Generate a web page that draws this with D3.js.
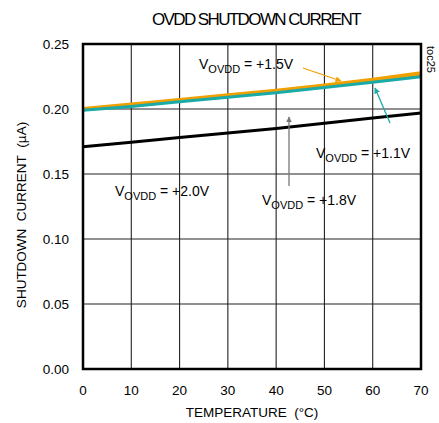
<!DOCTYPE html>
<html><head><meta charset="utf-8">
<script src="https://cdn.jsdelivr.net/npm/d3@7"></script>
<style>body{margin:0;background:#fff}svg{display:block}text{font-family:"Liberation Sans",Arial,sans-serif}</style>
</head><body><svg id="c" width="439" height="423"></svg>
<script>
const temps = [0,10,20,30,40,50,60,70];
const v15 = [0.200,0.2035,0.207,0.2105,0.214,0.218,0.2225,0.2275];
const v11 = [0.199,0.202,0.2055,0.209,0.2125,0.2165,0.2205,0.2248];
const v18 = [0.1995,0.2027,0.2062,0.2097,0.2132,0.2172,0.2213,0.2258];
const v20 = [0.171,0.1745,0.178,0.1815,0.185,0.189,0.193,0.197];
const xTicks = [0,10,20,30,40,50,60,70];
const yTicks = [0,0.05,0.10,0.15,0.20,0.25];

const svg = d3.select("#c");
const L=83,R=421,T=44,B=369;
const x = d3.scaleLinear().domain([0,70]).range([L,R]);
const y = d3.scaleLinear().domain([0,0.25]).range([B,T]);

// grid
svg.append("g").selectAll("line").data(xTicks).join("line")
  .attr("x1",d=>x(d)).attr("x2",d=>x(d)).attr("y1",T).attr("y2",B)
  .attr("stroke","#222").attr("stroke-width",1.1);
svg.append("g").selectAll("line").data(yTicks).join("line")
  .attr("y1",d=>y(d)).attr("y2",d=>y(d)).attr("x1",L).attr("x2",R)
  .attr("stroke","#222").attr("stroke-width",1.1);

// tick labels
svg.append("g").selectAll("text").data(xTicks).join("text")
  .attr("x",d=>x(d)).attr("y",395).attr("text-anchor","middle")
  .attr("font-size",13.5).text(d=>d);
svg.append("g").selectAll("text").data(yTicks).join("text")
  .attr("x",69).attr("y",d=>y(d)+5).attr("text-anchor","end")
  .attr("font-size",13.5).text(d=>d.toFixed(2));

// axis titles
svg.append("text").attr("x",252).attr("y",417).attr("text-anchor","middle")
  .attr("font-size",13.5).text("TEMPERATURE\u00a0\u00a0(°C)");
svg.append("text").attr("transform","translate(26,215) rotate(-90)")
  .attr("text-anchor","middle").attr("font-size",13.5).text("SHUTDOWN\u00a0\u00a0CURRENT\u00a0\u00a0(µA)");
svg.append("text").attr("x",256).attr("y",25).attr("text-anchor","middle")
  .attr("font-size",17).attr("letter-spacing",-1.6).text("OVDD SHUTDOWN CURRENT");
svg.append("text").attr("transform","translate(427,46) rotate(90)")
  .attr("font-size",11).text("toc25");

// lines
const line = d3.line().x((d,i)=>x(temps[i])).y(d=>y(d));
[[v20,"#000",3],[v18,"#777",3],[v15,"#f0a000",4],[v11,"#1aaaa8",3]].forEach(([s,c,w])=>{
  svg.append("path").attr("d",line(s)).attr("fill","none").attr("stroke",c).attr("stroke-width",w);
});

// frame
svg.append("rect").attr("x",L).attr("y",T).attr("width",R-L).attr("height",B-T)
  .attr("fill","none").attr("stroke","#000").attr("stroke-width",2.5);

// arrows
const defs = svg.append("defs");
function marker(id,color){
  defs.append("marker").attr("id",id).attr("viewBox","0 0 10 10").attr("refX",9).attr("refY",5)
    .attr("markerWidth",6).attr("markerHeight",6).attr("markerUnits","userSpaceOnUse").attr("orient","auto")
    .append("path").attr("d","M0,0L10,5L0,10z").attr("fill",color);
}
marker("mo","#f0a000");marker("mt","#1aaaa8");marker("mg","#777");
function arrow(x1,y1,x2,y2,c,m){
  svg.append("line").attr("x1",x1).attr("y1",y1).attr("x2",x2).attr("y2",y2)
    .attr("stroke",c).attr("stroke-width",1.3).attr("marker-end",`url(#${m})`);
}
arrow(303,68,341,81,"#f0a000","mo");
arrow(390,123,375,88,"#1aaaa8","mt");
arrow(289,186,289,117,"#777","mg");

// labels
function vlabel(px,py,val){
  const t = svg.append("text").attr("x",px).attr("y",py).attr("font-size",14);
  t.append("tspan").text("V");
  t.append("tspan").attr("dy",4).attr("font-size",11).text("OVDD");
  t.append("tspan").attr("dy",-4).text(" = "+val);
}
vlabel(199,69,"+1.5V");
vlabel(316,158,"+1.1V");
vlabel(115,196,"+2.0V");
vlabel(262,205,"+1.8V");
</script></body></html>
